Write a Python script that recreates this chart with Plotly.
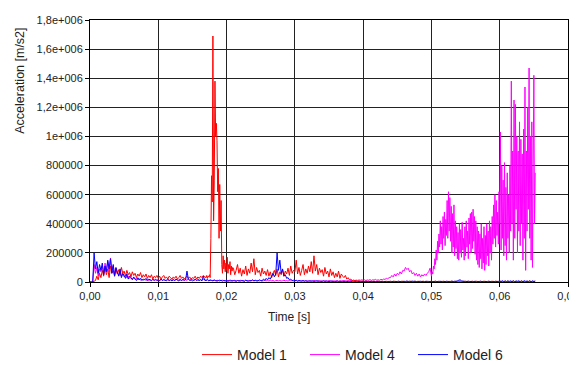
import plotly.graph_objects as go

# Acceleration values in thousands of m/s2.
# Each part is sampled at a regular step starting at the given time (seconds).

# Model 1: 0.0000 s .. 0.0168 s, step 0.0002 s
model1_part1_start, model1_part1_step = 0.0, 0.0002
model1_part1_k = [
    0, 0, 0, 5, 10, 40, 15, 60, 30, 80,
    40, 100, 50, 90, 30, 110, 60, 80, 40, 95,
    55, 85, 45, 100, 60, 75, 40, 80, 50, 65,
    35, 70, 45, 60, 30, 55, 40, 65, 30, 50,
    35, 55, 25, 45, 30, 50, 20, 40, 30, 45,
    25, 40, 20, 35, 45, 25, 35, 20, 40, 30,
    20, 35, 25, 40, 20, 30, 45, 25, 35, 20,
    30, 40, 25, 35, 20, 30, 25, 40, 20, 35,
    25, 40, 30, 45, 35,
]
# Model 1: 0.0170 s .. 0.0209 s, step 0.0001 s (impact peak)
model1_part2_start, model1_part2_step = 0.0170, 0.0001
model1_part2_k = [
    30, 45, 25, 40, 35, 50, 30, 300, 730, 550,
    1690, 420, 700, 1380, 1000, 1090, 970, 620, 780, 300,
    670, 350, 560, 120, 60, 180, 90, 150, 70, 130,
    80, 170, 60, 120, 90, 140, 50, 110, 75, 100,
]
# Model 1: 0.0210 s .. 0.0652 s, step 0.0002 s
model1_part3_start, model1_part3_step = 0.0210, 0.0002
model1_part3_k = [
    95, 50, 80, 120, 60,
    95, 40, 85, 55, 110, 45, 90, 60, 130, 70,
    160, 50, 100, 65, 80, 40, 95, 55, 75, 45,
    85, 40, 70, 30, 60, 80, 45, 90, 35, 70,
    50, 85, 40, 75, 55, 95, 45, 110, 60, 80,
    70, 150, 55, 100, 45, 80, 120, 50, 90, 60,
    110, 70, 140, 60, 180, 75, 120, 50, 95, 65,
    85, 40, 100, 55, 75, 35, 90, 45, 70, 30,
    60, 35, 75, 25, 55, 40, 30, 45, 20, 30,
    15, 20, 10, 12, 8, 10, 6, 8, 5, 6,
    5, 4, 6, 4, 5, 3, 5, 4, 5, 3,
    4, 5, 3, 4, 5, 3, 4, 5, 3, 4,
    5, 3, 4, 5, 3, 4, 5, 3, 4, 5,
    3, 4, 5, 3, 4, 5, 3, 4, 5, 3,
    4, 5, 3, 4, 5, 3, 4, 5, 3, 4,
    5, 3, 4, 5, 3, 4, 5, 3, 4, 5,
    3, 4, 5, 3, 4, 5, 3, 4, 5, 3,
    4, 5, 3, 4, 5, 3, 4, 5, 3, 4,
    5, 3, 4, 5, 3, 4, 5, 3, 4, 5,
    3, 4, 5, 3, 4, 5, 3, 4, 5, 3,
    4, 5, 3, 4, 5, 3, 4, 5, 3, 4,
    5, 3, 4, 5, 3, 4, 5, 3, 4, 5,
    3, 4, 5, 3, 4, 5, 3,
]

# Model 4: 0.0000 s .. 0.0498 s, step 0.0002 s
model4_part1_start, model4_part1_step = 0.0, 0.0002
model4_part1_k = [
    0, 0, 0, 120, 60, 100, 40, 90, 70, 110,
    60, 130, 80, 140, 70, 165, 90, 110, 50, 80,
    60, 50, 70, 40, 55, 35, 45, 30, 40, 25,
    30, 20, 28, 18, 25, 15, 22, 14, 20, 12,
    18, 12, 16, 10, 15, 12, 18, 10, 14, 12,
    15, 10, 18, 12, 20, 10, 14, 16, 10, 18,
    12, 20, 10, 15, 18, 12, 22, 10, 15, 12,
    18, 10, 25, 12, 15, 20, 10, 18, 14, 22,
    12, 18, 10, 20, 15, 12, 18, 10, 15, 12,
    10, 15, 8, 12, 10, 14, 8, 12, 10, 8,
    10, 8, 12, 6, 10, 8, 12, 7, 10, 8,
    12, 8, 10, 6, 12, 8, 10, 7, 9, 11,
    8, 10, 6, 12, 8, 10, 7, 9, 11, 8,
    10, 7, 12, 8, 10, 6, 9, 11, 8, 10,
    7, 9, 12, 8, 10, 6, 11, 8, 9, 7,
    8, 10, 6, 9, 7, 10, 8, 6, 9, 7,
    8, 6, 9, 7, 10, 8, 6, 9, 7, 8,
    6, 9, 7, 8, 6, 10, 7, 9, 6, 8,
    7, 9, 6, 8, 7, 10, 8, 9, 7, 10,
    8, 11, 9, 12, 10, 13, 11, 14, 12, 15,
    12, 15, 10, 14, 12, 16, 11, 15, 13, 18,
    12, 15, 12, 18, 15, 20, 18, 25, 22, 30,
    30, 45, 35, 55, 40, 60, 50, 70, 55, 80,
    75, 100, 85, 95, 70, 80, 55, 65, 45, 60,
    40, 55, 35, 50, 40, 55, 45, 60, 70, 95,
]
# Model 4: 0.0500 s .. 0.0652 s, step 0.0001 s
model4_part2_start, model4_part2_step = 0.0500, 0.0001
model4_part2_k = [
    40, 70, 55, 110, 90, 160, 120, 220, 150, 280,
    200, 330, 240, 420, 260, 380, 220, 450, 300, 480,
    250, 430, 320, 560, 300, 620, 350, 580, 280, 520,
    200, 470, 240, 530, 180, 420, 230, 380, 160, 340,
    150, 400, 200, 360, 170, 410, 220, 300, 150, 380,
    180, 420, 240, 350, 160, 440, 260, 470, 200, 480,
    230, 500, 280, 450, 190, 420, 150, 380, 120, 350,
    100, 330, 160, 400, 90, 300, 130, 380, 80, 320,
    120, 400, 180, 350, 110, 420, 200, 380, 150, 450,
    260, 530, 300, 600, 240, 560, 320, 480, 260, 620,
    400, 1030, 220, 800, 300, 700, 180, 820, 250, 650,
    150, 750, 300, 600, 200, 800, 350, 1380, 400, 900,
    150, 1250, 300, 1220, 500, 1000, 200, 900, 350, 1100,
    250, 980, 400, 880, 150, 1050, 300, 1340, 80, 900,
    350, 1200, 500, 1470, 300, 1000, 150, 1100, 100, 800,
    1420, 400, 750,
]

# Model 6: 0.0000 s .. 0.0652 s, step 0.0002 s
model6_start, model6_step = 0.0, 0.0002
model6_k = [
    0, 0, 0, 200, 90, 140, 60, 120, 80, 130,
    50, 110, 70, 150, 90, 160, 60, 120, 40, 100,
    70, 40, 90, 30, 60, 45, 25, 55, 20, 40,
    30, 15, 35, 20, 10, 30, 15, 25, 10, 20,
    15, 25, 10, 20, 15, 8, 18, 12, 20, 10,
    15, 8, 20, 10, 15, 12, 8, 18, 10, 14,
    8, 15, 10, 20, 12, 8, 15, 10, 18, 12,
    15, 75, 20, 10, 15, 8, 12, 18, 10, 14,
    10, 15, 8, 40, 12, 10, 15, 8, 12, 10,
    8, 12, 10, 6, 10, 8, 12, 6, 10, 8,
    10, 6, 8, 12, 6, 10, 8, 5, 10, 8,
    6, 10, 8, 5, 12, 8, 6, 10, 8, 15,
    8, 12, 10, 6, 15, 10, 8, 20, 12, 25,
    15, 30, 20, 40, 60, 35, 55, 200, 80, 150,
    60, 90, 40, 50, 25, 30, 15, 20, 10, 12,
    8, 12, 6, 10, 8, 5, 10, 6, 8, 5,
    6, 8, 5, 7, 4, 6, 8, 5, 6, 4,
    5, 7, 4, 6, 5, 3, 6, 4, 5, 3,
    4, 6, 3, 5, 4, 3, 5, 3, 4, 2,
    3, 4, 2, 3, 2, 3, 2, 3, 2, 3,
    2, 3, 2, 3, 2, 2, 3, 2, 3, 2,
    3, 2, 3, 2, 4, 2, 3, 2, 3, 2,
    4, 2, 5, 3, 4, 2, 5, 3, 4, 3,
    5, 3, 6, 4, 5, 3, 6, 4, 5, 3,
    4, 3, 5, 3, 4, 2, 5, 3, 4, 3,
    4, 2, 3, 5, 2, 4, 3, 5, 2, 4,
    3, 5, 2, 4, 3, 6, 3, 5, 4, 8,
    12, 15, 8, 6, 4, 5, 3, 5, 4, 3,
    4, 3, 5, 2, 4, 3, 5, 2, 4, 3,
    4, 2, 5, 3, 4, 2, 3, 5, 2, 4,
    8, 2, 9, 1, 8, 2, 9, 1, 8, 2,
    9, 1, 8, 2, 9, 1, 8, 2, 9, 1,
    8, 2, 9, 1, 8, 2, 8,
]

series_names = ["Model 1", "Model 4", "Model 6"]
series_colors = ["#FF0000", "#FF00FF", "#0000FF"]

x_tick_vals = [0.00, 0.01, 0.02, 0.03, 0.04, 0.05, 0.06, 0.07]
x_tick_text = ["0,00", "0,01", "0,02", "0,03", "0,04", "0,05", "0,06", "0,07"]
y_tick_vals = [0, 200000, 400000, 600000, 800000, 1000000, 1200000, 1400000, 1600000, 1800000]
y_tick_text = ["0", "200000", "400000", "600000", "800000", "1e+006",
               "1,2e+006", "1,4e+006", "1,6e+006", "1,8e+006"]


def build(parts):
    xs, ys = [], []
    for start, step, vals in parts:
        for i, v in enumerate(vals):
            xs.append(round(start + i * step, 6))
            ys.append(v * 1000)
    return xs, ys


series_parts = {
    "Model 1": [(model1_part1_start, model1_part1_step, model1_part1_k),
                (model1_part2_start, model1_part2_step, model1_part2_k),
                (model1_part3_start, model1_part3_step, model1_part3_k)],
    "Model 4": [(model4_part1_start, model4_part1_step, model4_part1_k),
                (model4_part2_start, model4_part2_step, model4_part2_k)],
    "Model 6": [(model6_start, model6_step, model6_k)],
}
draw_order = ["Model 4", "Model 1", "Model 6"]

fig = go.Figure()
for name in draw_order:
    idx = series_names.index(name)
    xs, ys = build(series_parts[name])
    fig.add_trace(go.Scatter(
        x=xs, y=ys, mode="lines", name=name,
        line=dict(color=series_colors[idx], width=1, simplify=False),
        legendrank=idx + 1,
    ))

axis_common = dict(
    showgrid=True, gridcolor="#222222", gridwidth=1,
    showline=True, linecolor="#000000", linewidth=1, mirror=True,
    ticks="outside", ticklen=4, tickcolor="#000000", zeroline=False,
    tickfont=dict(size=11, color="#222222"),
)

# The page body has an 8 px margin, so figure pixel positions are offset by 8.
fig.update_layout(
    width=577, height=365,
    margin=dict(l=82, r=14, t=6, b=91),
    paper_bgcolor="white", plot_bgcolor="white",
    font=dict(family="Liberation Sans, Arial, sans-serif", size=11, color="#222222"),
    xaxis=dict(range=[0, 0.07], tickvals=x_tick_vals, ticktext=x_tick_text, **axis_common),
    yaxis=dict(range=[0, 1800000], tickvals=y_tick_vals, ticktext=y_tick_text, **axis_common),
    showlegend=True,
    legend=dict(
        orientation="h", xref="container", yref="container",
        x=189 / 577, xanchor="left", y=1 - 347 / 365, yanchor="middle",
        font=dict(size=14, color="#222222"),
        entrywidth=63, entrywidthmode="pixels",
        bgcolor="rgba(0,0,0,0)", traceorder="normal",
    ),
    annotations=[
        dict(text="Time [s]", xref="paper", yref="paper",
             x=(290.7 - 90) / 481, y=(282 - 318) / 268,
             xanchor="center", yanchor="middle", showarrow=False,
             font=dict(size=12, color="#222222")),
        dict(text="Acceleration [m/s2]", xref="paper", yref="paper",
             x=(19.5 - 90) / 481, y=(282 - 76.2) / 268, textangle=-90,
             xanchor="center", yanchor="middle", showarrow=False,
             font=dict(size=12.5, color="#222222")),
    ],
)

fig.write_html("out.html")
